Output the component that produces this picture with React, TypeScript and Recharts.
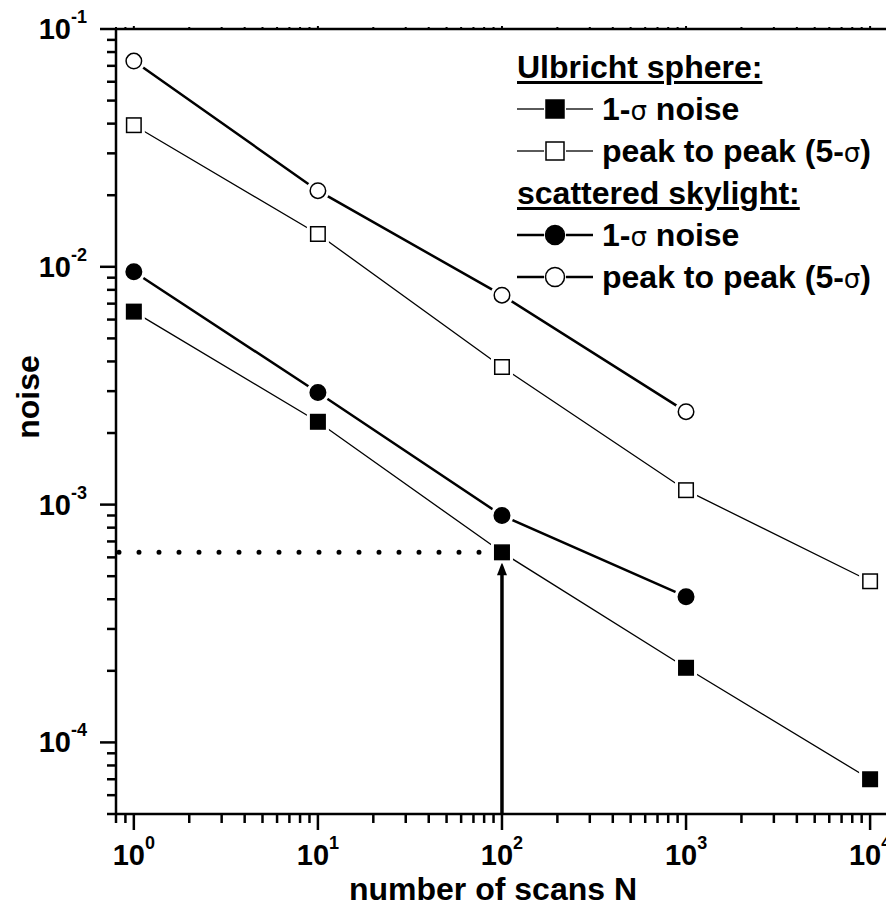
import React from 'react';
import { ComposedChart, Line, XAxis, YAxis, ReferenceLine, Legend } from 'recharts';

// ---- data ----
const scansN = [1, 10, 100, 1000, 10000];
const ulbrichtSigma = [0.00648, 0.00223, 0.00063, 0.000206, 0.00007];
const ulbrichtPeak = [0.0394, 0.01374, 0.00379, 0.00115, 0.000476];
const skylightSigma = [0.00953, 0.00296, 0.0009, 0.00041];
const skylightPeak = [0.0733, 0.0209, 0.0076, 0.00246];

const markedN = 100;
const markedNoise = 0.00063;

const xMajorTicks = [1, 10, 100, 1000, 10000];
const xMinorBelow = [0.8, 0.9];
const yMajorTicks = [0.0001, 0.001, 0.01, 0.1];
const yMinorBelow = [0.00005, 0.00006, 0.00007, 0.00008, 0.00009];
const minorMultipliers = [2, 3, 4, 5, 6, 7, 8, 9];

const xDomain = [0.8, 14000];
const yDomain = [0.00005, 0.1];

const xTitle = 'number of scans N';
const yTitle = 'noise';
const legendHeads = ['Ulbricht sphere:', 'scattered skylight:'];

// ---- derived ----
const toPoints = (ys: number[]) => ys.map((y, i) => ({ x: scansN[i], y }));
const withMinors = (majors: number[], below: number[], maxV: number) => {
  const out: number[] = [...below];
  majors.forEach((m) => {
    out.push(m);
    minorMultipliers.forEach((k) => {
      const v = m * k;
      if (v <= maxV) out.push(v);
    });
  });
  return out;
};
const xTicks = withMinors(xMajorTicks, xMinorBelow, xDomain[1]);
const yTicks = withMinors(yMajorTicks, yMinorBelow, yDomain[1]);

const FONT = '"Liberation Sans", Arial, Helvetica, sans-serif';
const isMajor = (v: number) => {
  const lg = Math.log10(v);
  return Math.abs(lg - Math.round(lg)) < 1e-6;
};

const XTick = (p: any) => {
  const { x, y, payload } = p;
  const v = payload.value;
  const major = isMajor(v);
  return (
    <g>
      <line x1={x} x2={x} y1={y} y2={y + (major ? 16 : 9)} stroke="#000" strokeWidth={2.5} />
      {major && (
        <text x={x} y={y + 51} textAnchor="middle" fontFamily={FONT} fontWeight="bold" fontSize={29} fill="#000">
          10<tspan dy={-16} fontSize={18}>{Math.round(Math.log10(v))}</tspan>
        </text>
      )}
    </g>
  );
};

const XTopTick = (p: any) => {
  const { x, y, payload } = p;
  const major = isMajor(payload.value);
  return <line x1={x} x2={x} y1={y} y2={y - (major ? 3 : 2)} stroke="#000" strokeWidth={2} />;
};

const YTick = (p: any) => {
  const { x, y, payload } = p;
  const v = payload.value;
  const major = isMajor(v);
  return (
    <g>
      <line x1={x} x2={x - (major ? 16 : 9)} y1={y} y2={y} stroke="#000" strokeWidth={2.5} />
      {major && (
        <text x={x - 29} y={y + 10} textAnchor="end" fontFamily={FONT} fontWeight="bold" fontSize={29} fill="#000">
          10<tspan dy={-16} fontSize={18}>{Math.round(Math.log10(v))}</tspan>
        </text>
      )}
    </g>
  );
};

const Marker = ({ cx, cy, shape, filled, size }: any) => {
  const h = size / 2;
  if (shape === 'square') {
    return (
      <g>
        <rect x={cx - h - 3} y={cy - h - 3} width={size + 6} height={size + 6} fill="#fff" stroke="none" />
        <rect x={cx - h + 0.75} y={cy - h + 0.75} width={size - 1.5} height={size - 1.5} fill={filled ? '#000' : '#fff'} stroke="#000" strokeWidth={1.5} />
      </g>
    );
  }
  return (
    <g>
      <circle cx={cx} cy={cy} r={h + 3} fill="#fff" stroke="none" />
      <circle cx={cx} cy={cy} r={h - 0.75} fill={filled ? '#000' : '#fff'} stroke="#000" strokeWidth={1.5} />
    </g>
  );
};

const dotFn = (shape: string, filled: boolean, size: number) => (props: any) => {
  const { cx, cy, index } = props;
  if (cx == null || cy == null) return <g key={index} />;
  return <Marker key={index} cx={cx} cy={cy} shape={shape} filled={filled} size={size} />;
};

const Arrow = (p: any) => {
  const { x1, y1, x2, y2 } = p;
  const top = Math.min(y1, y2) + 10;
  const bottom = Math.max(y1, y2);
  const x = x1;
  return (
    <g>
      <line x1={x} x2={x} y1={bottom} y2={top + 10} stroke="#000" strokeWidth={3.5} />
      <path d={`M${x},${top} L${x - 5},${top + 13} L${x + 5},${top + 13} Z`} fill="#000" />
    </g>
  );
};

const LegendSymbol = ({ shape, filled, thick }: any) => (
  <svg width={76} height={24} style={{ display: 'block', flex: 'none' }}>
    <line x1={0} x2={27} y1={12} y2={12} stroke="#000" strokeWidth={thick ? 2.5 : 1.3} />
    <line x1={49} x2={76} y1={12} y2={12} stroke="#000" strokeWidth={thick ? 2.5 : 1.3} />
    {shape === 'square' ? (
      <rect x={29} y={3} width={18} height={18} fill={filled ? '#000' : '#fff'} stroke="#000" strokeWidth={1.5} />
    ) : (
      <circle cx={38} cy={12} r={9.5} fill={filled ? '#000' : '#fff'} stroke="#000" strokeWidth={1.5} />
    )}
  </svg>
);

const Sigma = () => <span style={{ fontWeight: 'normal', fontFamily: '"DejaVu Sans", sans-serif', fontSize: 26 }}>σ</span>;

const legendRowStyle: React.CSSProperties = {
  height: 42,
  display: 'flex',
  alignItems: 'center',
  fontFamily: FONT,
  fontWeight: 'bold',
  fontSize: 32,
  color: '#000',
  whiteSpace: 'nowrap',
};

const headStyle: React.CSSProperties = {
  ...legendRowStyle,
  textDecoration: 'underline',
  textDecorationThickness: 3,
  textUnderlineOffset: 3,
};

const renderLegend = () => (
  <div>
    <div style={headStyle}>{legendHeads[0]}</div>
    <div style={legendRowStyle}>
      <LegendSymbol shape="square" filled />
      <span style={{ marginLeft: 9 }}>1-<Sigma /> noise</span>
    </div>
    <div style={legendRowStyle}>
      <LegendSymbol shape="square" filled={false} />
      <span style={{ marginLeft: 9 }}>peak to peak (5-<Sigma />)</span>
    </div>
    <div style={headStyle}>{legendHeads[1]}</div>
    <div style={legendRowStyle}>
      <LegendSymbol shape="circle" filled thick />
      <span style={{ marginLeft: 9 }}>1-<Sigma /> noise</span>
    </div>
    <div style={legendRowStyle}>
      <LegendSymbol shape="circle" filled={false} thick />
      <span style={{ marginLeft: 9 }}>peak to peak (5-<Sigma />)</span>
    </div>
  </div>
);

const XTitle = (p: any) => {
  const vb = p.viewBox || { x: 0, y: 0, width: 0, height: 0 };
  return (
    <text x={vb.x + 377} y={vb.y + 86} textAnchor="middle" fontFamily={FONT} fontWeight="bold" fontSize={32} fill="#000">
      {xTitle}
    </text>
  );
};

const YTitle = (p: any) => {
  const vb = p.viewBox || { x: 0, y: 0, width: 0, height: 0 };
  const cx = vb.x + 12;
  const cy = vb.y + 368;
  return (
    <text x={cx} y={cy} transform={`rotate(-90 ${cx} ${cy})`} textAnchor="middle" dominantBaseline="central" fontFamily={FONT} fontWeight="bold" fontSize={32} fill="#000">
      {yTitle}
    </text>
  );
};

export default function App() {
  return (
    <div style={{ width: 886, height: 906, overflow: 'hidden', marginBottom: -8, position: 'relative' }}>
      <ComposedChart width={889} height={906} margin={{ top: 11, right: 0, bottom: 10, left: 8 }}>
        <XAxis
          dataKey="x"
          type="number"
          scale="log"
          domain={xDomain}
          allowDataOverflow
          ticks={xTicks}
          interval={0}
          tickSize={0}
          tickMargin={0}
          tickLine={false}
          tick={XTick}
          axisLine={{ stroke: '#000', strokeWidth: 2.5 }}
          height={90}
          label={XTitle}
        />
        <XAxis
          xAxisId="top"
          orientation="top"
          dataKey="x"
          type="number"
          scale="log"
          domain={xDomain}
          allowDataOverflow
          ticks={xTicks}
          interval={0}
          tickSize={0}
          tickMargin={0}
          tickLine={false}
          tick={XTopTick}
          axisLine={{ stroke: '#000', strokeWidth: 2.5 }}
          height={10}
        />
        <YAxis
          dataKey="y"
          type="number"
          scale="log"
          domain={yDomain}
          allowDataOverflow
          ticks={yTicks}
          interval={0}
          tickSize={0}
          tickMargin={0}
          tickLine={false}
          tick={YTick}
          axisLine={{ stroke: '#000', strokeWidth: 2.5 }}
          width={100}
          label={YTitle}
        />
        <Line data={toPoints(ulbrichtPeak)} dataKey="y" stroke="#000" strokeWidth={1.3} dot={dotFn('square', false, 16)} isAnimationActive={false} />
        <Line data={toPoints(ulbrichtSigma)} dataKey="y" stroke="#000" strokeWidth={1.3} dot={dotFn('square', true, 16)} isAnimationActive={false} />
        <Line data={toPoints(skylightPeak)} dataKey="y" stroke="#000" strokeWidth={2.5} dot={dotFn('circle', false, 17)} isAnimationActive={false} />
        <Line data={toPoints(skylightSigma)} dataKey="y" stroke="#000" strokeWidth={2.5} dot={dotFn('circle', true, 17)} isAnimationActive={false} />
        <ReferenceLine
          segment={[{ x: xDomain[0], y: markedNoise }, { x: 82, y: markedNoise }]}
          stroke="#000"
          strokeWidth={5}
          strokeDasharray="0 20"
          strokeDashoffset={17}
          strokeLinecap="round"
          ifOverflow="visible"
        />
        <ReferenceLine
          segment={[{ x: markedN, y: yDomain[0] }, { x: markedN, y: markedNoise }]}
          shape={Arrow}
          ifOverflow="visible"
        />
        <Legend
          layout="horizontal"
          verticalAlign="middle"
          align="center"
          content={renderLegend}
          wrapperStyle={{ position: 'absolute', left: 509, top: 38, width: 380, height: 260 }}
        />
      </ComposedChart>
    </div>
  );
}
